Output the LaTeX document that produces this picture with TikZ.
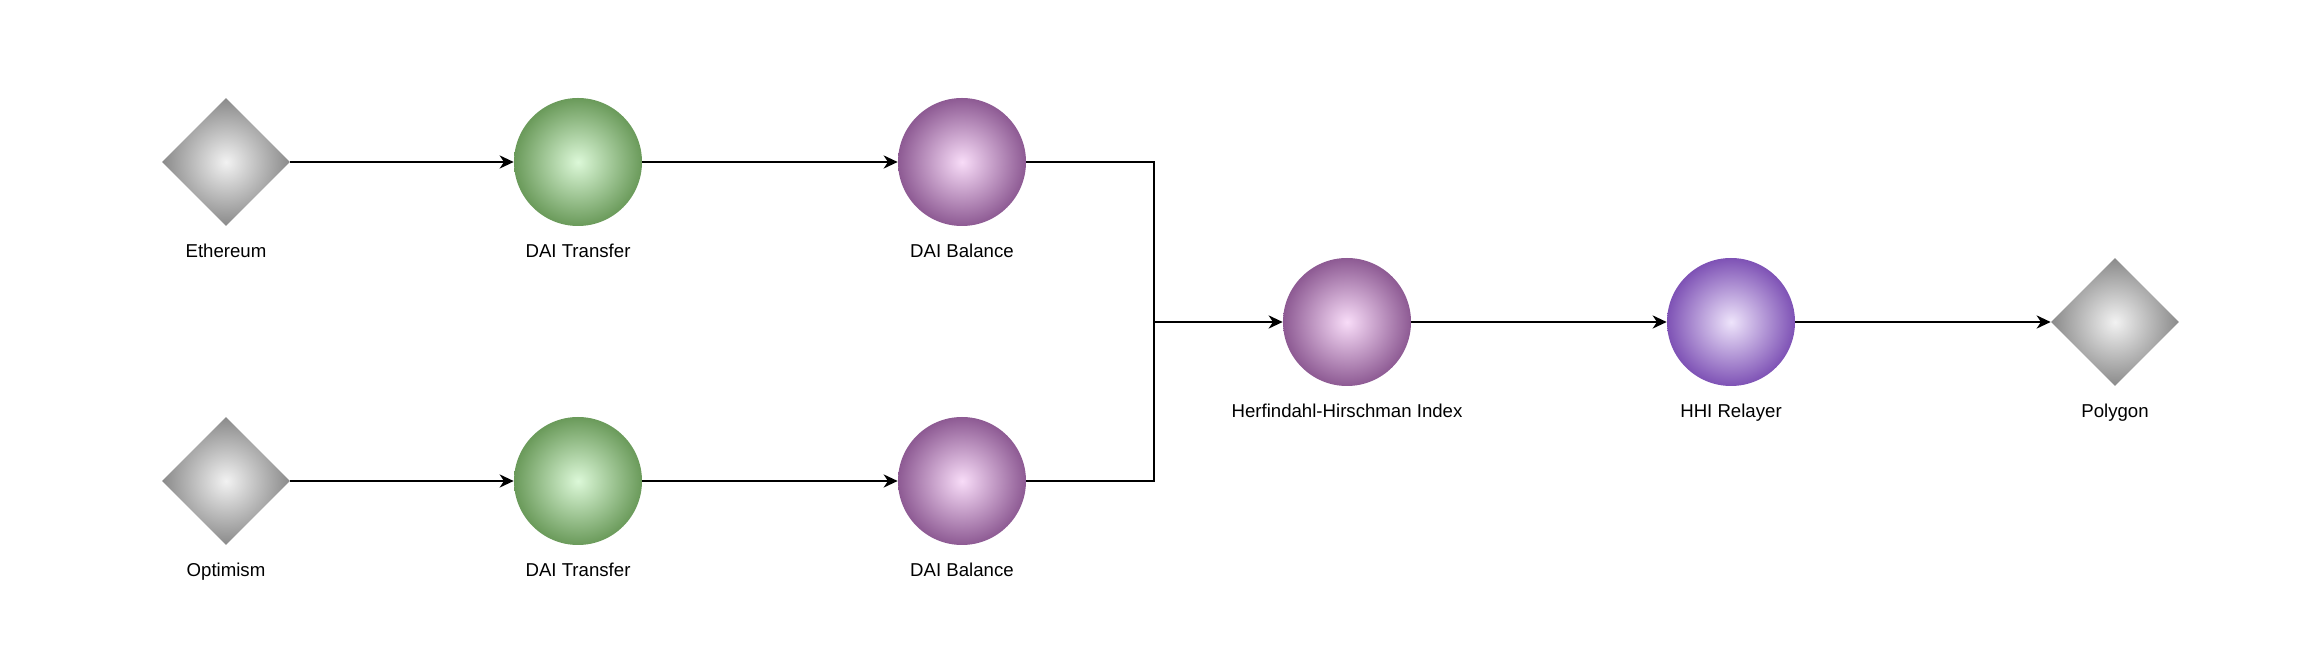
\documentclass[tikz,border=0pt]{standalone}
\usepackage{fontspec}
\setmainfont{Liberation Sans}
\usetikzlibrary{shapes.geometric,arrows.meta,positioning}

\definecolor{greyout}{HTML}{8A8A8A}
\definecolor{greyin}{HTML}{F2F2F2}
\definecolor{greenout}{HTML}{6A9A5A}
\definecolor{greenin}{HTML}{DCF8D8}
\definecolor{plumout}{HTML}{8D5A93}
\definecolor{plumin}{HTML}{F8DCF8}
\definecolor{violetout}{HTML}{7E52B5}
\definecolor{violetin}{HTML}{EEE4FB}

\begin{document}
\begin{tikzpicture}[
	chain/.style={diamond, aspect=1, inner sep=0pt, minimum size=2.56cm, shading=radial, inner color=greyin, outer color=greyout},
	transfer/.style={circle, inner sep=0pt, minimum size=2.56cm, shading=radial, inner color=greenin, outer color=greenout},
	balance/.style={circle, inner sep=0pt, minimum size=2.56cm, shading=radial, inner color=plumin, outer color=plumout},
	relayer/.style={circle, inner sep=0pt, minimum size=2.56cm, shading=radial, inner color=violetin, outer color=violetout},
	lbl/.style={inner sep=0pt, font=\fontsize{10.6}{12.7}\selectfont},
	flow/.style={line width=1.1pt, -{Stealth[length=8pt, width=7.5pt, inset=2.5pt]}}
]
	\useasboundingbox (0,0) rectangle (46.16,12.96);

	\node[chain] (eth) at (4.52,9.72) {};
	\node[lbl, below=0.34cm of eth] (ethname) {Ethereum};

	\node[transfer] (xfer1) at (11.56,9.72) {};
	\node[lbl, below=0.34cm of xfer1] (xfer1name) {DAI Transfer};

	\node[balance] (bal1) at (19.24,9.72) {};
	\node[lbl, below=0.34cm of bal1] (bal1name) {DAI Balance};

	\node[chain] (opt) at (4.52,3.34) {};
	\node[lbl, below=0.34cm of opt] (optname) {Optimism};

	\node[transfer] (xfer2) at (11.56,3.34) {};
	\node[lbl, below=0.34cm of xfer2] (xfer2name) {DAI Transfer};

	\node[balance] (bal2) at (19.24,3.34) {};
	\node[lbl, below=0.34cm of bal2] (bal2name) {DAI Balance};

	\node[balance] (hhi) at (26.94,6.52) {};
	\node[lbl, below=0.34cm of hhi] (hhiname) {Herfindahl-Hirschman Index};

	\node[relayer] (relay) at (34.62,6.52) {};
	\node[lbl, below=0.34cm of relay] (relayname) {HHI Relayer};

	\node[chain] (poly) at (42.30,6.52) {};
	\node[lbl, below=0.34cm of poly] (polyname) {Polygon};

	\coordinate (join) at (23.08,6.52);

	\draw[flow] (eth) -- (xfer1);
	\draw[flow] (xfer1) -- (bal1);
	\draw[flow] (opt) -- (xfer2);
	\draw[flow] (xfer2) -- (bal2);
	\draw[line width=1.1pt] (bal1.east) -| (join);
	\draw[line width=1.1pt] (bal2.east) -| (join);
	\draw[flow] (join) -- (hhi);
	\draw[flow] (hhi) -- (relay);
	\draw[flow] (relay) -- (poly);
\end{tikzpicture}
\end{document}
